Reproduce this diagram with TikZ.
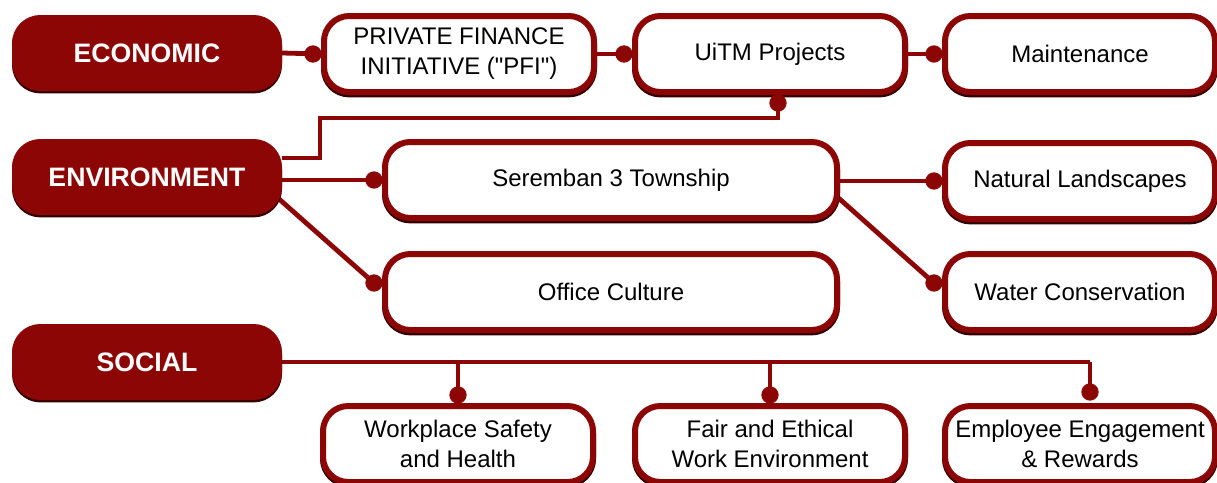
\documentclass[tikz,border=0pt]{standalone}
\usepackage{fontspec}
\setmainfont{Liberation Sans}
\usetikzlibrary{calc,backgrounds}
\definecolor{brick}{RGB}{140,6,6}
\definecolor{brickdark}{RGB}{50,0,0}

\tikzset{
  bevel/.style={preaction={draw=brickdark, line width=4.5pt, transform canvas={yshift=-1.8pt}}},
  topic/.style={bevel, fill=brick, draw=brick, line width=4.5pt, rounded corners=19pt,
    text=white, font=\bfseries\fontsize{20}{24}\selectfont,
    minimum width=198pt, minimum height=52.5pt, inner sep=0pt},
  item/.style={bevel, fill=white, draw=brick, line width=4.5pt, rounded corners=19pt,
    font=\fontsize{18}{22.5}\selectfont, align=center,
    minimum width=202.5pt, minimum height=57pt, inner sep=0pt},
  wide/.style={minimum width=339pt},
  link/.style={draw=brick, line width=3.6pt},
}
\newcommand{\knob}[1]{\fill[brick] #1 circle (6.5pt);}

\begin{document}
\begin{tikzpicture}[x=0.75pt, y=-0.75pt]
  \useasboundingbox (0,0) rectangle (1217,482);

  % pillars
  \node[topic] (econ)   at (147,53)  {ECONOMIC};
  \node[topic] (env)    at (147,177) {ENVIRONMENT};
  \node[topic] (social) at (147,362) {SOCIAL};

  % economic branch
  \node[item] (pfi)   at (459,54)  {PRIVATE FINANCE\\INITIATIVE (\textquotedbl PFI\textquotedbl)};
  \node[item] (uitm)  at (770,54)  {UiTM Projects};
  \node[item] (maint) at (1080,54) {Maintenance};

  % environment branch
  \node[item, wide] (seremban) at (611,180) {Seremban 3 Township};
  \node[item, wide] (office)   at (611,292) {Office Culture};
  \node[item] (natural) at (1080,181) {Natural Landscapes};
  \node[item] (water)   at (1080,292) {Water Conservation};

  % social branch
  \node[item] (safety)   at (458,444)  {Workplace Safety\\and Health};
  \node[item] (ethics)   at (770,444)  {Fair and Ethical\\Work Environment};
  \node[item] (engage)   at (1080,444) {Employee Engagement\\\& Rewards};

  % connectors behind the boxes
  \begin{pgfonlayer}{background}
    \draw[link] (econ.east) -- (pfi.west);
    \draw[link] (pfi.east) -- (uitm.west);
    \draw[link] (uitm.east) -- (maint.west);
    \draw[link] ($(env.east)+(0,-19)$) -| (320,118) -| ($(uitm.south)+(8,0)$);
    \draw[link] (env.east |- seremban.west) -- (seremban.west);
    \draw[link] ($(env.east)+(-12,14)$) -- ($(office.west)+(-8,-9)$);
    \draw[link] (seremban.east |- natural.west) -- (natural.west);
    \draw[link] ($(seremban.east)+(-6,14)$) -- ($(water.west)+(-8,-9)$);
    \draw[link] (social.east) -- (1090,362);
    \draw[link] (safety.north |- social.east) -- (safety.north);
    \draw[link] (ethics.north |- social.east) -- (ethics.north);
    \draw[link] (1090,362) -- (1090,400);
  \end{pgfonlayer}

  % joints
  \knob{($(pfi.west)+(-8,0)$)}
  \knob{($(uitm.west)+(-8,0)$)}
  \knob{($(maint.west)+(-8,0)$)}
  \knob{($(uitm.south)+(8,8)$)}
  \knob{($(seremban.west)+(-8,0)$)}
  \knob{($(office.west)+(-8,-9)$)}
  \knob{($(natural.west)+(-8,0)$)}
  \knob{($(water.west)+(-8,-9)$)}
  \knob{($(safety.north)+(0,-8)$)}
  \knob{($(ethics.north)+(0,-8)$)}
  \knob{(1090,392)}
\end{tikzpicture}
\end{document}
